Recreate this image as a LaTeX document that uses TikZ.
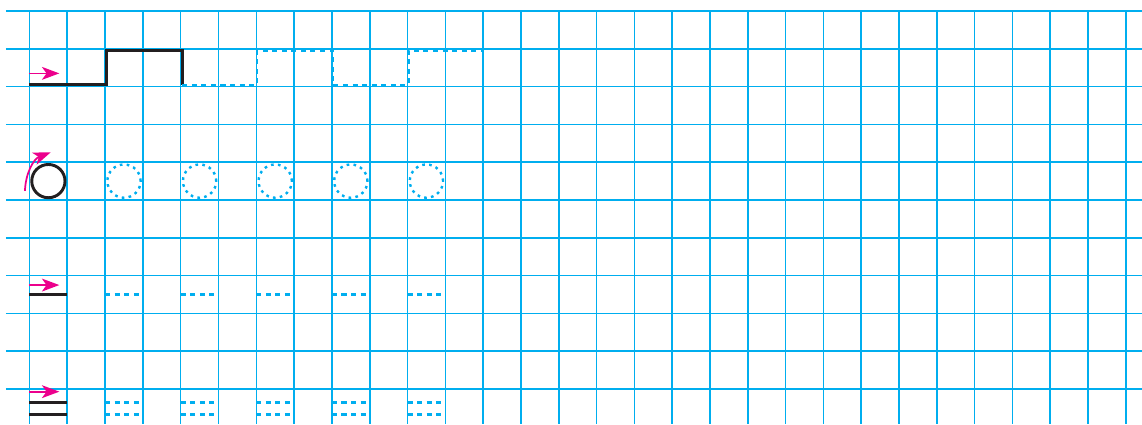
\documentclass[tikz,border=0pt]{standalone}
\usetikzlibrary{arrows.meta}
\definecolor{cgrid}{HTML}{00AEEF}
\definecolor{cink}{HTML}{231F20}
\definecolor{cpink}{HTML}{EC008C}
\tikzset{
  every picture/.style={line width=0.8pt},
  gridline/.style={draw=cgrid, line width=1.2pt},
  solidpath/.style={draw=cink, line width=2.2pt},
  dashpath/.style={draw=cgrid, line width=1.9pt, dash pattern=on 3.8pt off 3.4pt},
  dotcircle/.style={draw=cgrid, line width=1.8pt, dash pattern=on 2pt off 3.2pt},
  motion/.style={-{Stealth[length=4.6mm, width=3.4mm, inset=1.2mm]}, draw=cpink, line width=1.3pt},
}

\begin{document}
\begin{tikzpicture}[x=1cm, y=1cm]
  \useasboundingbox (-0.780,-10.926) rectangle (29.43,0.291);
  % squared paper
  \foreach \j in {0,...,10}
    \draw[gridline] (-0.622,-\j) -- (29.43,-\j);
  \foreach \i in {0,...,29}
    \draw[gridline] (\i,0) -- (\i,-10.926);

  % row 1: stepped line
  \coordinate (wstart) at (0,-1.955);
  \coordinate (wmid) at (4.04,-1.955);
  \coordinate (wend) at (12,-1.045);
  \draw[solidpath] (wstart) -- (2.04,-1.955) -- (2.04,-1.045) -- (4.04,-1.045) -- (wmid);
  \draw[dashpath] (wmid) -- (6.02,-1.955) -- (6.02,-1.045) -- (8.02,-1.045) -- (8.02,-1.955)
    -- (10.02,-1.955) -- (10.02,-1.045) -- (wend);
  \draw[motion] (0,-1.65) -- (0.79,-1.65);

  % row 2: circles
  \draw[solidpath] (0.5,-4.5) circle (0.44);
  \foreach \x in {2.5,4.5,...,10.5}
    \draw[dotcircle] (\x,-4.5) circle (0.44);
  \draw[motion] (-0.12,-4.76) to[out=88, in=201] (0.56,-3.74);

  % row 3: single strokes
  \draw[solidpath] (0,-7.5) -- (1,-7.5);
  \foreach \x in {2,4,...,10}
    \draw[dashpath] (\x,-7.5) -- (\x+1,-7.5);
  \draw[motion] (0,-7.25) -- (0.79,-7.25);

  % row 4: double strokes
  \foreach \y in {-10.35,-10.67} {
    \draw[solidpath] (0,\y) -- (1,\y);
    \foreach \x in {2,4,...,10}
      \draw[dashpath] (\x,\y) -- (\x+1,\y);
  }
  \draw[motion] (0,-10.07) -- (0.79,-10.07);
\end{tikzpicture}
\end{document}
